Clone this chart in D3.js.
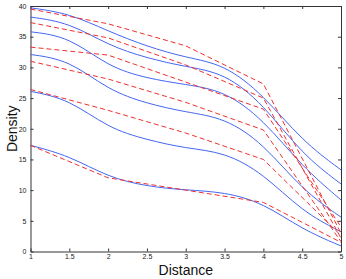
<!DOCTYPE html>
<html>
<head>
<meta charset="utf-8">
<script src="https://cdn.jsdelivr.net/npm/d3@7"></script>
<style>
  body { margin: 0; background: #fff; }
  svg { display: block; font-family: "Liberation Sans", Arial, sans-serif; }
</style>
</head>
<body>
<div class="canvas"></div>
<script>
// solid (blue) curves, sampled every 0.5
const xSmooth = [1, 1.5, 2, 2.5, 3, 3.5, 4, 4.5, 5];
const blue1 = [39.7, 38.8, 35.9, 33.4, 31.6, 30.5, 25.5, 18.0, 13.3];
const blue2 = [38.2, 37.3, 33.6, 31.5, 30.1, 29.1, 24.0, 15.8, 11.0];
const blue3 = [35.8, 35.0, 30.1, 28.2, 27.2, 26.2, 21.5, 13.8, 8.4];
const blue4 = [32.1, 31.2, 26.3, 24.1, 22.7, 21.8, 17.6, 10.0, 5.6];
const blue5 = [26.1, 24.8, 20.1, 18.2, 16.8, 16.2, 12.7, 6.5, 3.2];
const blue6 = [17.3, 15.6, 12.1, 10.6, 10.0, 9.7, 7.9, 3.6, 0.9];

// dashed (red) curves, nodes at integer distances
const xNodes = [1, 2, 3, 4, 5];
const red1 = [39.5, 37.1, 33.5, 27.3, 3.0];
const red2 = [37.3, 34.8, 30.4, 25.0, 2.2];
const red3 = [33.3, 32.0, 27.6, 23.2, 4.0];
const red4 = [31.0, 28.1, 24.3, 19.8, 1.6];
const red5 = [26.4, 23.0, 19.3, 15.0, 2.6];
const red6 = [17.3, 12.0, 10.0, 8.0, 1.5];

const xTicks = [1, 1.5, 2, 2.5, 3, 3.5, 4, 4.5, 5];
const yTicks = [0, 5, 10, 15, 20, 25, 30, 35, 40];

const blues = [blue1, blue2, blue3, blue4, blue5, blue6];
const reds = [red1, red2, red3, red4, red5, red6];

const dims = {width: 346, height: 279};
const plot = {left: 30.5, right: 341, top: 6, bottom: 251.5};

const svg = d3.select('.canvas')
  .append('svg')
    .attr('width', dims.width)
    .attr('height', dims.height);

const x = d3.scaleLinear().domain([1, 5]).range([plot.left, plot.right]);
const y = d3.scaleLinear().domain([0, 40]).range([plot.bottom, plot.top]);

const axisColour = '#333';

const styleAxis = g => {
  g.select('.domain').attr('stroke', axisColour);
  g.selectAll('.tick line').attr('stroke', axisColour);
  g.selectAll('.tick text').attr('fill', '#222').attr('font-size', 7)
    .attr('font-family', '"Liberation Sans", Arial, sans-serif');
};

svg.append('g')
  .attr('transform', `translate(0,${plot.bottom})`)
  .call(d3.axisBottom(x).tickValues(xTicks).tickSize(-3).tickPadding(3).tickSizeOuter(0).tickFormat(d3.format('')))
  .call(styleAxis);

svg.append('g')
  .attr('transform', `translate(0,${plot.top})`)
  .call(d3.axisTop(x).tickValues(xTicks).tickSize(-3).tickSizeOuter(0).tickFormat(''))
  .call(styleAxis);

svg.append('g')
  .attr('transform', `translate(${plot.left},0)`)
  .call(d3.axisLeft(y).tickValues(yTicks).tickSize(-3).tickPadding(4).tickSizeOuter(0))
  .call(styleAxis);

svg.append('g')
  .attr('transform', `translate(${plot.right},0)`)
  .call(d3.axisRight(y).tickValues(yTicks).tickSize(-3).tickSizeOuter(0).tickFormat(''))
  .call(styleAxis);

// smooth spline through the sampled values
const smoothLine = d3.line()
  .x((d, i) => x(xSmooth[i]))
  .y(d => y(d))
  .curve(d3.curveBasis);

const nodeLine = d3.line()
  .x((d, i) => x(xNodes[i]))
  .y(d => y(d));

const lines = svg.append('g');

lines.selectAll('path.blue')
  .data(blues)
  .enter()
  .append('path')
    .attr('class', 'blue')
    .attr('fill', 'none')
    .attr('stroke', '#4466f2')
    .attr('stroke-width', 1)
    .attr('d', smoothLine);

lines.selectAll('path.red')
  .data(reds)
  .enter()
  .append('path')
    .attr('class', 'red')
    .attr('fill', 'none')
    .attr('stroke', '#f03030')
    .attr('stroke-width', 1)
    .attr('stroke-dasharray', '5,3')
    .attr('d', nodeLine);

// axis titles
svg.append('text')
  .attr('x', (plot.left + plot.right) / 2)
  .attr('y', 275)
  .attr('text-anchor', 'middle')
  .attr('font-size', 14)
  .attr('fill', '#111')
  .text('Distance');

svg.append('text')
  .attr('transform', `translate(17,${(plot.top + plot.bottom) / 2}) rotate(-90)`)
  .attr('text-anchor', 'middle')
  .attr('font-size', 14)
  .attr('fill', '#111')
  .text('Density');
</script>
</body>
</html>
